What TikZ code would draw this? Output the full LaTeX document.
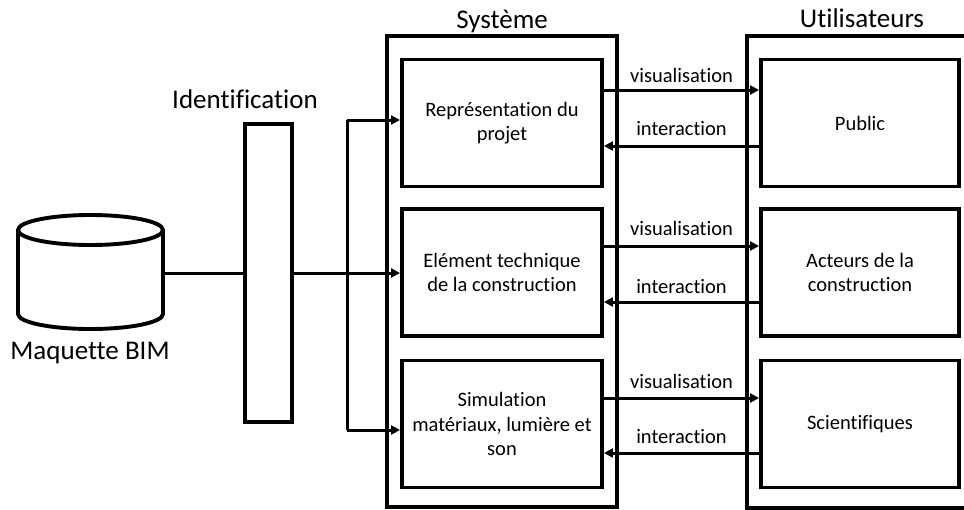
\documentclass[tikz,border=0pt]{standalone}
\usepackage{fontspec}
\setmainfont{Carlito}[Ligatures=NoCommon]
\usetikzlibrary{arrows.meta}
\begin{document}
\begin{tikzpicture}[x=1pt,y=-1pt,
  heavy/.style={line width=3.9pt},
  conn/.style={line width=3pt},
  arr/.style={conn,-{Triangle[length=9pt,width=9pt]}},
  title/.style={font=\fontsize{27}{32}\selectfont, anchor=base, inner sep=0},
  lbl/.style={font=\fontsize{20.5}{24.5}\selectfont, anchor=base, inner sep=0},
  box/.style={draw,heavy,align=center,inner sep=2pt,font=\fontsize{20.5}{24.5}\selectfont},
  sbox/.style={box,minimum width=200pt,minimum height=127pt},
  ubox/.style={box,minimum width=198pt,minimum height=127pt},
  ]
\clip (0,0) rectangle (964,509);
\useasboundingbox (0,0) rectangle (964,509);

% outer frames
\node[draw,heavy,minimum width=230pt,minimum height=471pt,inner sep=0] (sys) at (502,271.5) {};
\node[draw,heavy,minimum width=260pt,minimum height=472pt,inner sep=0] (usr) at (877,272) {};
\node[title] (tsys) at (502,28) {Système};
\node[title] (tusr) at (862,27) {Utilisateurs};

% system boxes
\node[sbox] (s1) at (502,123) {Représentation du\\projet};
\node[sbox] (s2) at (502,272.5) {Elément technique\\de la construction};
\node[sbox] (s3) at (502,424) {Simulation\\matériaux, lumière et\\son};

% user boxes
\node[ubox] (u1) at (860,123) {Public};
\node[ubox] (u2) at (860,272.5) {Acteurs de la\\construction};
\node[ubox] (u3) at (860,424) {Scientifiques};

% visualisation / interaction arrows
\draw[arr] (s1.east |- 0,90) -- node[lbl,midway,yshift=8pt] (v1) {visualisation} (u1.west |- 0,90);
\draw[arr] (u1.west |- 0,146) -- node[lbl,midway,yshift=11pt] (i1) {interaction} (s1.east |- 0,146);
\draw[arr] (s2.east |- 0,246) -- node[lbl,midway,yshift=11pt] (v2) {visualisation} (u2.west |- 0,246);
\draw[arr] (u2.west |- 0,302) -- node[lbl,midway,yshift=9pt] (i2) {interaction} (s2.east |- 0,302);
\draw[arr] (s3.east |- 0,398) -- node[lbl,midway,yshift=10pt] (v3) {visualisation} (u3.west |- 0,398);
\draw[arr] (u3.west |- 0,453) -- node[lbl,midway,yshift=10pt] (i3) {interaction} (s3.east |- 0,453);

% BIM cylinder
\node[minimum width=145pt,minimum height=114pt,inner sep=0,outer sep=0] (bim) at (90.5,272) {};
\draw[heavy] (18,230) -- (18,314) arc[start angle=180,end angle=0,x radius=72.5,y radius=15] -- (163,230);
\draw[heavy] (90.5,230) ellipse[x radius=72.5,y radius=15];
\node[title] (tbim) at (90,359) {Maquette BIM};

% identification
\node[draw,heavy,minimum width=47pt,minimum height=298pt,inner sep=0] (ident) at (268.5,273) {};
\node[title] (tid) at (245,108) {Identification};

% connections
\coordinate (bt) at (347,120);
\coordinate (bb) at (347,430);
\draw[conn] (bim.east |- ident.west) -- (ident.west);
\draw[arr] (ident.east) -- (s2.west |- ident.east);
\draw[conn] (bt) -- (bb);
\draw[arr] (bt) -- (bt -| s1.west);
\draw[arr] (bb) -- (bb -| s3.west);
\end{tikzpicture}
\end{document}
